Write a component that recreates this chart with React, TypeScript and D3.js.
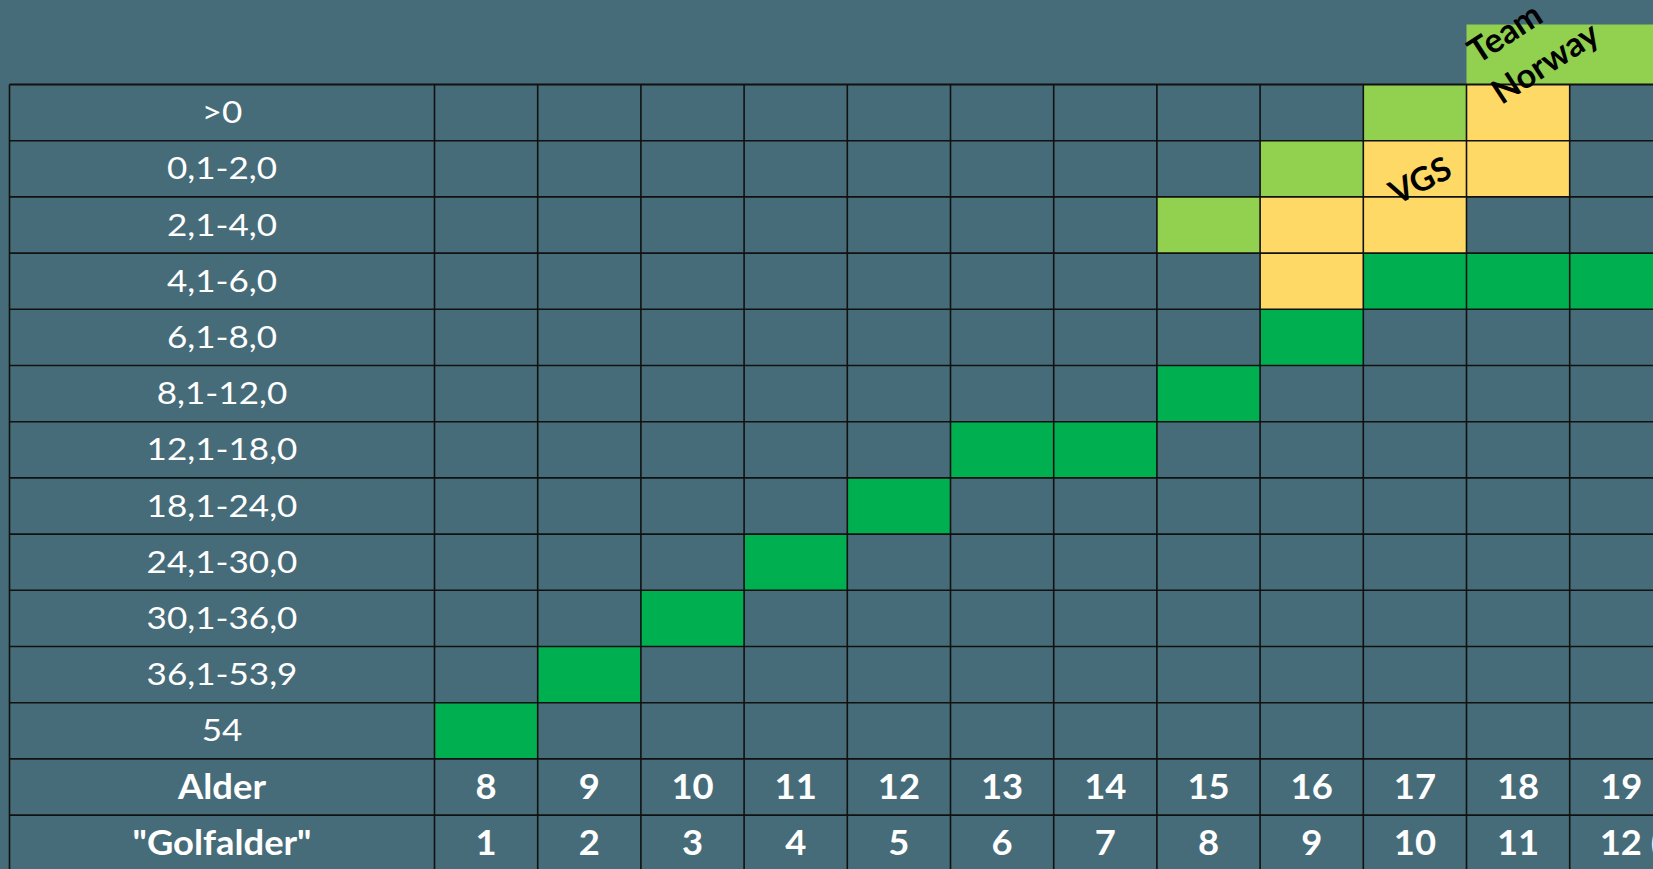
import React, { useEffect } from 'react';
import * as d3 from 'd3';

// handicap bands, top to bottom
const hcpRows = [
  '>0', '0,1-2,0', '2,1-4,0', '4,1-6,0', '6,1-8,0', '8,1-12,0',
  '12,1-18,0', '18,1-24,0', '24,1-30,0', '30,1-36,0', '36,1-53,9', '54',
];
const ages = [8, 9, 10, 11, 12, 13, 14, 15, 16, 17, 18, 19];
const golfAges = ['1', '2', '3', '4', '5', '6', '7', '8', '9', '10', '11', '12 (…)'];

// [handicap band, age]
const greenCells: [string, number][] = [
  ['54', 8], ['36,1-53,9', 9], ['30,1-36,0', 10], ['24,1-30,0', 11],
  ['18,1-24,0', 12], ['12,1-18,0', 13], ['12,1-18,0', 14], ['8,1-12,0', 15],
  ['6,1-8,0', 16], ['4,1-6,0', 17], ['4,1-6,0', 18], ['4,1-6,0', 19],
];
const lightGreenCells: [string, number][] = [
  ['2,1-4,0', 15], ['0,1-2,0', 16], ['>0', 17],
];
const yellowCells: [string, number][] = [
  ['4,1-6,0', 16], ['2,1-4,0', 16], ['2,1-4,0', 17],
  ['0,1-2,0', 17], ['0,1-2,0', 18], ['>0', 18],
];
const teamNorwayAges = [18, 19];

const W = 1653;
const H = 869;
const BG = '#476c79';
const GREEN = '#00b050';
const LIGHT = '#92d050';
const YELLOW = '#ffd966';
const FONT = 'Lato, "Open Sans", sans-serif';

// a text centred at (cx, cy), stretched a little sideways like the original
function Label({ cx, cy, text, size, bold, sx, anchor = 'middle' }: {
  cx: number; cy: number; text: string; size: number; bold?: boolean; sx: number; anchor?: string;
}) {
  return (
    <text transform={`translate(${cx},${cy}) scale(${sx},1)`} dy="0.34em" fontSize={size}
      fontWeight={bold ? 'bold' : 'normal'} textAnchor={anchor}>{text}</text>
  );
}

export default function App() {
  useEffect(() => {
    document.body.style.margin = '0';
    document.body.style.overflow = 'hidden';
  }, []);

  const left = 9.5;
  const labelRight = 434.5;
  const top = 84.5;
  const rowH = 56.2;
  const colW = 103.2;

  const x = d3.scaleBand<string>()
    .domain(ages.map(String))
    .range([labelRight, labelRight + colW * ages.length]);
  const rowKeys = [...hcpRows, 'Alder', 'Golfalder'];
  const y = d3.scaleBand<string>()
    .domain(rowKeys)
    .range([top, top + rowH * rowKeys.length]);
  const bw = x.bandwidth();
  const bh = y.bandwidth();
  const bottom = top + rowH * rowKeys.length;
  const labelX = (left + labelRight) / 2;

  const cells = [
    ...greenCells.map(([r, a]) => ({ r, a, c: GREEN })),
    ...lightGreenCells.map(([r, a]) => ({ r, a, c: LIGHT })),
    ...yellowCells.map(([r, a]) => ({ r, a, c: YELLOW })),
  ];

  const tnX0 = x(String(teamNorwayAges[0]))!;
  const vgsX = x('17')! + bw * 0.55;
  const vgsY = y('2,1-4,0')! - bh * 0.3;
  const mid = (k: string) => y(k)! + bh / 2;

  return (
    <svg width={W} height={H} style={{ display: 'block' }}>
      <rect width={W} height={H} fill={BG} />

      {/* Team Norway band above the table */}
      <rect x={tnX0} y={top - 60} width={W - tnX0} height={60} fill={LIGHT} />

      {cells.map((d, i) => (
        <rect key={i} x={x(String(d.a))} y={y(d.r)} width={bw} height={bh} fill={d.c} />
      ))}

      {/* grid */}
      <g stroke="#111" strokeWidth={1.6}>
        {[...rowKeys.map((k) => y(k)!), bottom].map((yy, i) => (
          <line key={'h' + i} x1={left} x2={W} y1={yy} y2={yy} strokeWidth={i === 0 ? 2 : 1.6} />
        ))}
        {[left, ...ages.map((a) => x(String(a))!)].map((xx, i) => (
          <line key={'v' + i} x1={xx} x2={xx} y1={top} y2={bottom} />
        ))}
      </g>

      {/* row labels */}
      <g fill="#fff" fontFamily={FONT}>
        {hcpRows.map((r) => (
          <Label key={r} cx={labelX} cy={mid(r)} text={r} size={31} sx={1.13} />
        ))}
        <Label cx={labelX} cy={mid('Alder')} text="Alder" size={34} bold sx={1.07} />
        <Label cx={labelX} cy={mid('Golfalder')} text={'"Golfalder"'} size={34} bold sx={1.07} />
        {ages.map((a) => (
          <Label key={'a' + a} cx={x(String(a))! + bw / 2} cy={mid('Alder')} text={String(a)} size={34} bold sx={1.07} />
        ))}
        {golfAges.map((g, i) => {
          const last = i === golfAges.length - 1;
          return (
            <Label key={'g' + i} cx={x(String(ages[i]))! + (last ? 30 : bw / 2)} cy={mid('Golfalder')}
              text={g} size={34} bold sx={1.07} anchor={last ? 'start' : 'middle'} />
          );
        })}
      </g>

      {/* annotations */}
      <g fill="#000" fontFamily={FONT} fontWeight="bold" textAnchor="middle">
        <text transform={`translate(${vgsX},${vgsY}) rotate(-27)`} dy="0.36em" fontSize={33}>VGS</text>
        <text transform={`translate(${tnX0 + bw * 0.37},${top - 52}) rotate(-33)`} dy="0.36em" fontSize={34}>Team</text>
        <text transform={`translate(${tnX0 + bw * 0.76},${top - 22}) rotate(-33)`} dy="0.36em" fontSize={34}>Norway</text>
      </g>
    </svg>
  );
}
